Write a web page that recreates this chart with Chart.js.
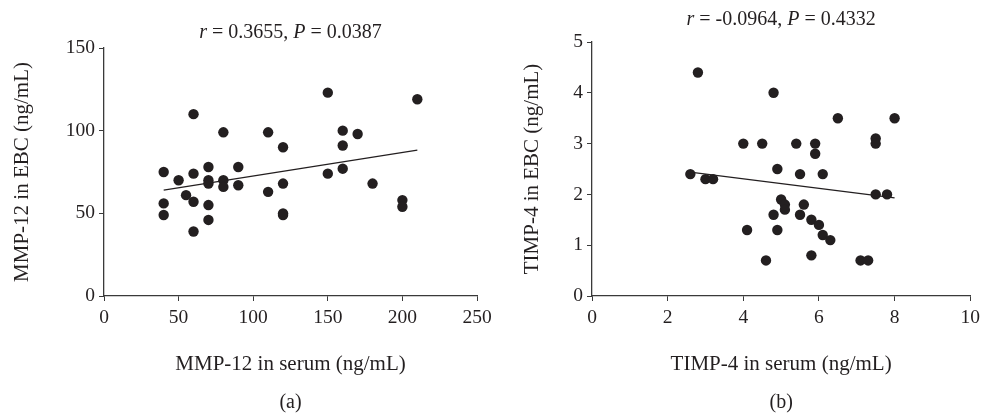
<!DOCTYPE html>
<html>
<head>
<meta charset="utf-8">
<script src="https://cdn.jsdelivr.net/npm/chart.js@4.4.1/dist/chart.umd.min.js"></script>
<style>
  body { margin: 0; background: #fff; width: 985px; height: 415px; overflow: hidden; position: relative; }
  .box { position: absolute; top: 0; height: 415px; }
</style>
</head>
<body>
<div class="box" style="left:0;width:500px"><canvas id="chartA"></canvas></div>
<div class="box" style="left:500px;width:485px"><canvas id="chartB"></canvas></div>
<script>
// panel (a): MMP-12
const mmpSerum = [40, 40, 40, 50, 55, 60, 60, 60, 60, 70, 70, 70, 70, 70, 80, 80, 80, 90, 90, 110, 110, 120, 120, 120, 120, 150, 150, 160, 160, 160, 170, 180, 200, 200, 210];
const mmpEbc   = [75, 56, 49, 70, 61, 110, 74, 57, 39, 78, 70, 68, 55, 46, 70, 66, 99, 78, 67, 99, 63, 90, 68, 50, 49, 123, 74, 100, 91, 77, 98, 68, 58, 54, 119];
const mmpTrendX = [40, 210];
const mmpTrendY = [64, 88.2];
const mmpXTicks = [0, 50, 100, 150, 200, 250];
const mmpYTicks = [0, 50, 100, 150];

// panel (b): TIMP-4
const timpSerum = [2.6, 2.8, 3.0, 3.2, 4.0, 4.1, 4.5, 4.6, 4.8, 4.8, 4.9, 4.9, 5.0, 5.1, 5.1, 5.4, 5.5, 5.5, 5.6, 5.8, 5.8, 5.9, 5.9, 6.0, 6.1, 6.1, 6.3, 6.5, 7.1, 7.3, 7.5, 7.5, 7.5, 7.8, 8.0];
const timpEbc   = [2.4, 4.4, 2.3, 2.3, 3.0, 1.3, 3.0, 0.7, 4.0, 1.6, 2.5, 1.3, 1.9, 1.8, 1.7, 3.0, 2.4, 1.6, 1.8, 1.5, 0.8, 3.0, 2.8, 1.4, 2.4, 1.2, 1.1, 3.5, 0.7, 0.7, 3.1, 3.0, 2.0, 2.0, 3.5];
const timpTrendX = [2.7, 8.0];
const timpTrendY = [2.43, 1.93];
const timpXTicks = [0, 2, 4, 6, 8, 10];
const timpYTicks = [0, 1, 2, 3, 4, 5];

const INK = "#231f20";
const AXIS = "#3a3a3a";
const FONT = "'Liberation Serif', 'DejaVu Serif', serif";

const captionPlugin = {
  id: "caption",
  afterDraw(chart, args, opts) {
    const ctx = chart.ctx;
    const area = chart.chartArea;
    const cx = (area.left + area.right) / 2;
    ctx.save();
    ctx.fillStyle = INK;
    ctx.textBaseline = "middle";
    let total = 0;
    opts.parts.forEach((p) => {
      ctx.font = (p.italic ? "italic " : "") + opts.size + "px " + FONT;
      total += ctx.measureText(p.text).width;
    });
    let x = cx - total / 2;
    ctx.textAlign = "left";
    opts.parts.forEach((p) => {
      ctx.font = (p.italic ? "italic " : "") + opts.size + "px " + FONT;
      ctx.fillText(p.text, x, opts.titleY);
      x += ctx.measureText(p.text).width;
    });
    ctx.textAlign = "center";
    ctx.font = opts.size + "px " + FONT;
    ctx.fillText(opts.label, cx, opts.labelY);
    ctx.restore();
  },
};

function makeChart(id, cfg) {
  const points = cfg.xs.map((x, i) => ({ x: x, y: cfg.ys[i] }));
  const trend = cfg.tx.map((x, i) => ({ x: x, y: cfg.ty[i] }));
  const tickList = (vals) => (scale) => {
    scale.ticks = vals.map((v) => ({ value: v }));
  };
  return new Chart(document.getElementById(id), {
    type: "scatter",
    data: {
      datasets: [
        {
          data: points,
          pointRadius: 5.2,
          pointHoverRadius: 5.2,
          backgroundColor: INK,
          borderWidth: 0,
        },
        {
          data: trend,
          showLine: true,
          borderColor: INK,
          borderWidth: 1.2,
          pointRadius: 0,
        },
      ],
    },
    plugins: [captionPlugin],
    options: {
      responsive: true,
      maintainAspectRatio: false,
      animation: false,
      layout: {
        padding: { left: cfg.padLeft, right: cfg.padRight, top: cfg.top, bottom: 0 },
      },
      plugins: {
        legend: { display: false },
        tooltip: { enabled: false },
        caption: {
          parts: cfg.title,
          size: 20,
          titleY: cfg.titleY,
          label: cfg.label,
          labelY: 403,
        },
      },
      scales: {
        x: {
          type: "linear",
          min: cfg.xTicks[0],
          max: cfg.xTicks[cfg.xTicks.length - 1],
          afterBuildTicks: tickList(cfg.xTicks),
          afterFit: (scale) => { scale.height = 415 - 296; },
          grid: { drawOnChartArea: false, tickLength: 5, color: AXIS },
          border: { color: AXIS, width: 1.3 },
          ticks: { color: INK, font: { family: FONT, size: 19.5 }, padding: 5 },
          title: {
            display: true,
            text: cfg.xTitle,
            color: INK,
            font: { family: FONT, size: 21 },
            padding: { top: 0, bottom: 38 },
          },
        },
        y: {
          type: "linear",
          min: cfg.yTicks[0],
          max: cfg.yTicks[cfg.yTicks.length - 1],
          afterBuildTicks: tickList(cfg.yTicks),
          afterFit: (scale) => { scale.width = cfg.axisX - cfg.padLeft; },
          grid: { drawOnChartArea: false, tickLength: 5, color: AXIS },
          border: { color: AXIS, width: 1.3 },
          ticks: { color: INK, font: { family: FONT, size: 19.5 }, padding: 4 },
          title: {
            display: true,
            text: cfg.yTitle,
            color: INK,
            font: { family: FONT, size: 21 },
            padding: { top: 10, bottom: 0 },
          },
        },
      },
    },
  });
}

window.onload = () => {
  makeChart("chartA", {
    xs: mmpSerum, ys: mmpEbc, tx: mmpTrendX, ty: mmpTrendY,
    xTicks: mmpXTicks, yTicks: mmpYTicks,
    xTitle: "MMP-12 in serum (ng/mL)",
    yTitle: "MMP-12 in EBC (ng/mL)",
    title: [
      { text: "r", italic: true },
      { text: " = 0.3655, ", italic: false },
      { text: "P", italic: true },
      { text: " = 0.0387", italic: false },
    ],
    label: "(a)",
    titleY: 33,
    padLeft: 0, padRight: 23, top: 48, axisX: 104,
  });
  makeChart("chartB", {
    xs: timpSerum, ys: timpEbc, tx: timpTrendX, ty: timpTrendY,
    xTicks: timpXTicks, yTicks: timpYTicks,
    xTitle: "TIMP-4 in serum (ng/mL)",
    yTitle: "TIMP-4 in EBC (ng/mL)",
    title: [
      { text: "r", italic: true },
      { text: " = -0.0964, ", italic: false },
      { text: "P", italic: true },
      { text: " = 0.4332", italic: false },
    ],
    label: "(b)",
    titleY: 20,
    padLeft: 10, padRight: 12, top: 42, axisX: 92,
  });
};
</script>
</body>
</html>
